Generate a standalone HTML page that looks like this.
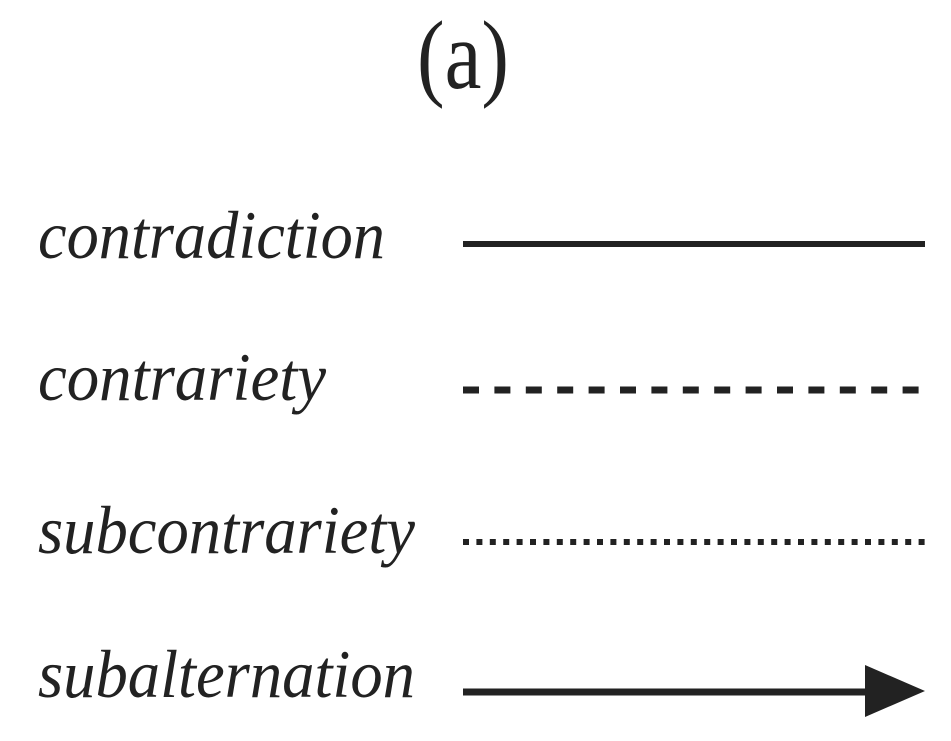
<!DOCTYPE html>
<html><head><style>html,body{margin:0;padding:0;background:#fff;}svg{display:block}</style></head>
<body>
<svg width="951" height="741" viewBox="0 0 951 741" xmlns="http://www.w3.org/2000/svg">
<g fill="#222" font-family="Liberation Serif, serif">
<text x="463" y="88" font-size="98" text-anchor="middle" textLength="92" lengthAdjust="spacingAndGlyphs">(a)</text>
<g font-style="italic" font-size="68">
<text x="38" y="258" textLength="347" lengthAdjust="spacingAndGlyphs">contradiction</text>
<text x="38" y="400" textLength="288" lengthAdjust="spacingAndGlyphs">contrariety</text>
<text x="38" y="553" textLength="377" lengthAdjust="spacingAndGlyphs">subcontrariety</text>
<text x="38" y="697" textLength="377" lengthAdjust="spacingAndGlyphs">subalternation</text>
</g>
</g>
<g stroke="#222">
<line x1="463" y1="244" x2="925" y2="244" stroke-width="6"/>
<line x1="463" y1="390" x2="925" y2="390" stroke-width="7" stroke-dasharray="16 15.4"/>
<line x1="463" y1="542" x2="925" y2="542" stroke-width="6" stroke-dasharray="6 7.4"/>
<line x1="463" y1="692" x2="870" y2="692" stroke-width="7"/>
</g>
<polygon points="865,665 925,691 865,717" fill="#222"/>
</svg>
</body></html>
